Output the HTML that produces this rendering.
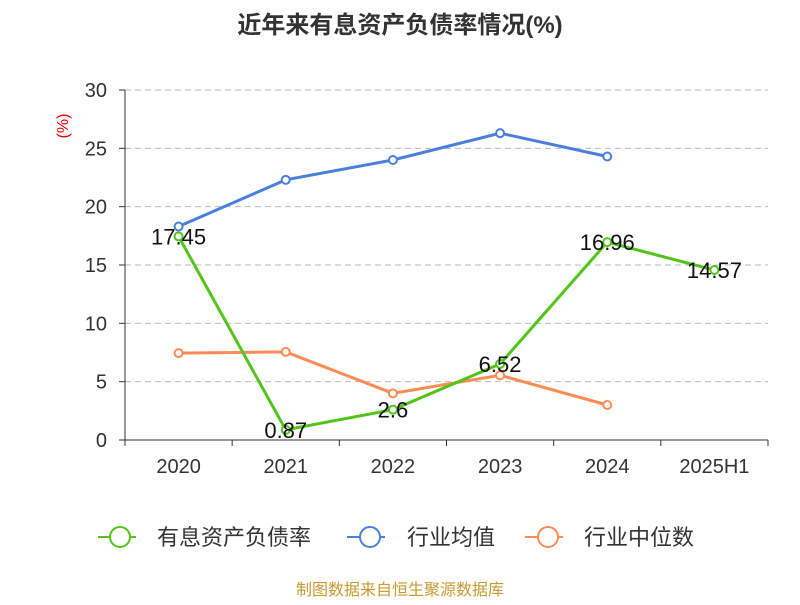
<!DOCTYPE html>
<html><head><meta charset="utf-8"><style>
body{margin:0;background:#fff;font-family:"Liberation Sans","Noto Sans CJK SC",sans-serif}
</style></head><body>
<svg width="800" height="600" xmlns="http://www.w3.org/2000/svg" font-family="Liberation Sans, Noto Sans CJK SC, sans-serif">
<text x="400" y="33" text-anchor="middle" font-size="24" font-weight="bold" fill="#333">近年来有息资产负债率情况(%)</text>
<text transform="translate(68,126) rotate(-90)" text-anchor="middle" font-size="16" fill="#e00">(%)</text>
<g id="grid"></g><g id="axes"></g><g id="series"></g>
<g font-size="22" fill="#333">
<g><line x1="98" y1="537" x2="136" y2="537" stroke="#52c41a" stroke-width="2"/><circle cx="120" cy="537" r="10" fill="#fff" stroke="#52c41a" stroke-width="2"/><text x="157" y="545">有息资产负债率</text></g>
<g><line x1="347" y1="537" x2="385" y2="537" stroke="#4a7fe0" stroke-width="2"/><circle cx="370" cy="537" r="10" fill="#fff" stroke="#4a7fe0" stroke-width="2"/><text x="407" y="545">行业均值</text></g>
<g><line x1="525" y1="537" x2="563" y2="537" stroke="#ff8c55" stroke-width="2"/><circle cx="548" cy="537" r="10" fill="#fff" stroke="#ff8c55" stroke-width="2"/><text x="584" y="545">行业中位数</text></g>
</g>
<text x="400" y="595" text-anchor="middle" font-size="16" fill="#c89a30">制图数据来自恒生聚源数据库</text>
</svg>
<script>
const categories=["2020","2021","2022","2023","2024","2025H1"];
const debtRatio=[17.45,0.87,2.6,6.52,16.96,14.57];
const debtLabels=["17.45","0.87","2.6","6.52","16.96","14.57"];
const industryAvg=[18.3,22.3,24.0,26.3,24.3,null];
const industryMedian=[7.45,7.55,4.0,5.55,3.0,null];
const yTicks=[0,5,10,15,20,25,30];
const NS="http://www.w3.org/2000/svg";
const x0=125,x1=768,y0=440,y1=90,ymax=30;
const bw=(x1-x0)/categories.length;
const X=i=>x0+bw*(i+0.5);
const Y=v=>y0-(v/ymax)*(y0-y1);
function mk(t,a,p){const e=document.createElementNS(NS,t);for(const k in a)e.setAttribute(k,a[k]);p.appendChild(e);return e;}
const grid=document.getElementById('grid'),axes=document.getElementById('axes'),ser=document.getElementById('series');
yTicks.forEach(v=>{
 if(v>0){const l=mk('line',{x1:x0,x2:x1,y1:Y(v),y2:Y(v),stroke:'#bbb','stroke-dasharray':'6,4'},grid);
 
 }
 const t=mk('text',{x:x0-18,y:Y(v)+7,'text-anchor':'end','font-size':20,fill:'#333'},axes);t.textContent=v;
 
 
 mk('line',{x1:x0-6,x2:x0,y1:Y(v),y2:Y(v),stroke:'#333'},axes);
});
const ya=mk('line',{x1:x0,x2:x0,y1:y1,y2:y0,stroke:'#333'},axes);


const xa=mk('line',{x1:x0,x2:x1,y1:y0,y2:y0,stroke:'#333'},axes);


for(let i=0;i<=categories.length;i++)mk('line',{x1:x0+bw*i,x2:x0+bw*i,y1:y0,y2:y0+6,stroke:'#333'},axes);
categories.forEach((c,i)=>{const t=mk('text',{x:X(i),y:y0+33,'text-anchor':'middle','font-size':20,fill:'#333'},axes);t.textContent=c;
 
 });
function series(vals,color,name){
 const pts=vals.map((v,i)=>v==null?null:[X(i),Y(v)]).filter(p=>p);
 const pl=mk('polyline',{points:pts.map(p=>p.join(',')).join(' '),fill:'none',stroke:color,'stroke-width':3},ser);
 
 
 pts.forEach(p=>{const c=mk('circle',{cx:p[0],cy:p[1],r:4,fill:'#fff',stroke:color,'stroke-width':2},ser);
 
 });
}
series(industryMedian,'#ff8c55','industry-median');
series(industryAvg,'#4a7fe0','industry-avg');
series(debtRatio,'#52c41a','debt-ratio');
debtRatio.forEach((v,i)=>{const t=mk('text',{x:X(i),y:Y(v)+8,'text-anchor':'middle','font-size':22,fill:'#111'},ser);t.textContent=debtLabels[i];
 
 });
</script>
</body></html>
